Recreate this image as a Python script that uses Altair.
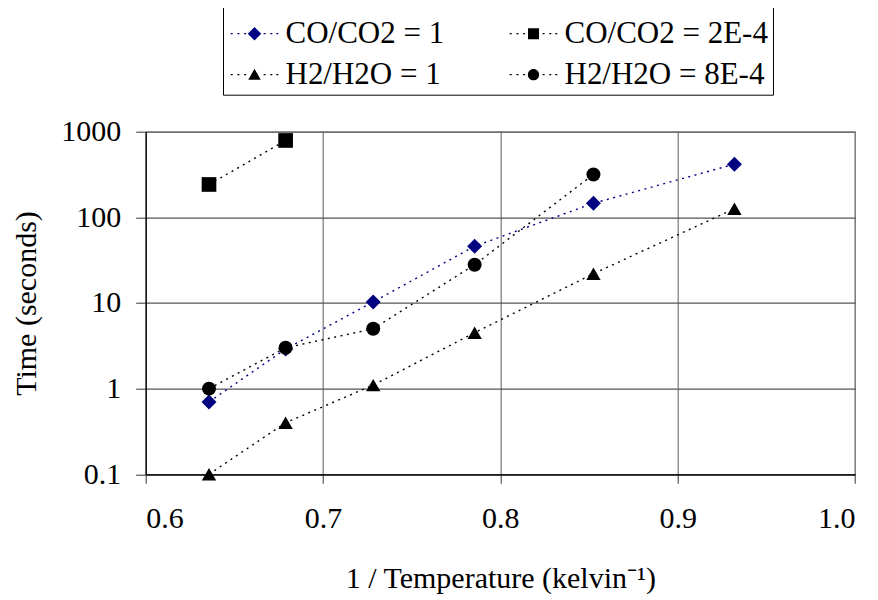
import altair as alt
import pandas as pd

# ---- data ----
inv_temp = [0.6357, 0.6789, 0.7283, 0.7855, 0.8525, 0.9320]   # 1/T (1/kK)
series_names = ["CO/CO2 = 1", "CO/CO2 = 2E-4", "H2/H2O = 1", "H2/H2O = 8E-4"]
co_co2_1 = [0.7, 2.9, 10.3, 46, 146, 418]
co_co2_2e4 = [242, 790]
h2_h2o_1 = [0.1, 0.4, 1.1, 4.5, 22, 126]
h2_h2o_8e4 = [1.0, 3.0, 5.0, 28, 317]
y_ticks = [0.1, 1, 10, 100, 1000]
x_ticks = [0.6, 0.7, 0.8, 0.9, 1.0]

series_values = [co_co2_1, co_co2_2e4, h2_h2o_1, h2_h2o_8e4]
rows = []
for name, vals in zip(series_names, series_values):
    for xv, yv in zip(inv_temp, vals):
        rows.append({"series": name, "x": xv, "t": yv})
df = pd.DataFrame(rows)

# ---- styles ----
FONT = "Times New Roman, Liberation Serif, serif"
colors = ["#000080", "black", "black", "black"]
shapes = ["diamond", "square", "triangle-up", "circle"]
marker_sizes = [225, 196, 270, 200]


def dots_path():
    parts = []
    for c in [-0.95, -0.67, -0.39, 0.42, 0.70, 0.95]:
        parts.append(f"M{c-0.042:.3f},-0.028H{c+0.042:.3f}V0.028H{c-0.042:.3f}Z")
    return "".join(parts)


DOTS = dots_path()
legend_paths = [
    DOTS + "M0,-0.28L0.28,0L0,0.28L-0.28,0Z",
    DOTS + "M-0.23,-0.23H0.23V0.23H-0.23Z",
    DOTS + "M0,-0.25L0.26,0.21L-0.26,0.21Z",
    DOTS + "M-0.235,0A0.235,0.235 0 1,0 0.235,0A0.235,0.235 0 1,0 -0.235,0Z",
]

x_enc = alt.X(
    "x:Q",
    scale=alt.Scale(domain=[0.6, 1.0], nice=False, zero=False),
    axis=alt.Axis(
        values=x_ticks, format=".1f", title="1 / Temperature (kelvin\u207b\u00b9)",
        grid=True, gridColor="#777777", gridWidth=1.2,
        tickSize=9, tickColor="#333", labelPadding=20,
        titleY=104, titleBaseline="middle",
    ),
)
y_enc = alt.Y(
    "t:Q",
    scale=alt.Scale(type="log", domain=[0.1, 1000], nice=False),
    axis=alt.Axis(
        values=y_ticks, format="~g", title="Time (seconds)",
        grid=True, gridColor="#555555", gridWidth=1.2,
        tickSize=10, tickColor="#333", labelPadding=15,
        titleX=-119, titleY=171.3, titleAngle=270,
        titleAlign="center", titleBaseline="middle",
    ),
)

plot_color = alt.Color("series:N", scale=alt.Scale(domain=series_names, range=colors), legend=None)

lines = alt.Chart(df).mark_line(strokeDash=[2, 4.5], strokeWidth=1.4).encode(
    x=x_enc, y=y_enc, color=plot_color, detail="series:N"
)

points = alt.Chart(df).mark_point(filled=True, opacity=1).encode(
    x=x_enc, y=y_enc, color=plot_color,
    shape=alt.Shape("series:N", scale=alt.Scale(domain=series_names, range=shapes), legend=None),
    size=alt.Size("series:N", scale=alt.Scale(domain=series_names, range=marker_sizes), legend=None),
)

leg = alt.Legend(
    title=None, orient="none", legendX=77.3, legendY=-127, columns=2,
    direction="horizontal",
    symbolSize=2304, labelFont=FONT, labelFontSize=31, labelColor="black",
    labelLimit=500, labelOffset=7, symbolOffset=2.5, padding=5,
    columnPadding=62, rowPadding=2,
    strokeColor="black", fillColor="white", symbolStrokeWidth=0,
)

legend_layer = alt.Chart(df).transform_filter("false").mark_point(
    filled=True, opacity=1, size=2304
).encode(
    color=alt.Color("series:N", scale=alt.Scale(domain=series_names, range=colors), legend=leg),
    shape=alt.Shape("series:N", scale=alt.Scale(domain=series_names, range=legend_paths), legend=leg),
)

chart = alt.layer(lines, points, legend_layer).resolve_scale(
    color="independent", shape="independent"
).properties(
    width=709.3, height=342.6,
    autosize=alt.AutoSizeParams(type="none"),
    padding={"left": 137.7, "top": 123.7, "right": 10, "bottom": 120},
).configure_view(
    stroke="#999999", strokeWidth=1.2
).configure_axis(
    labelFont=FONT, labelFontSize=30, labelColor="black",
    titleFont=FONT, titleFontSize=30, titleFontWeight="normal", titleColor="black",
    domainColor="black", domainWidth=1.2,
)

chart.save("out.html", embed_options={"renderer": "svg", "actions": False})
